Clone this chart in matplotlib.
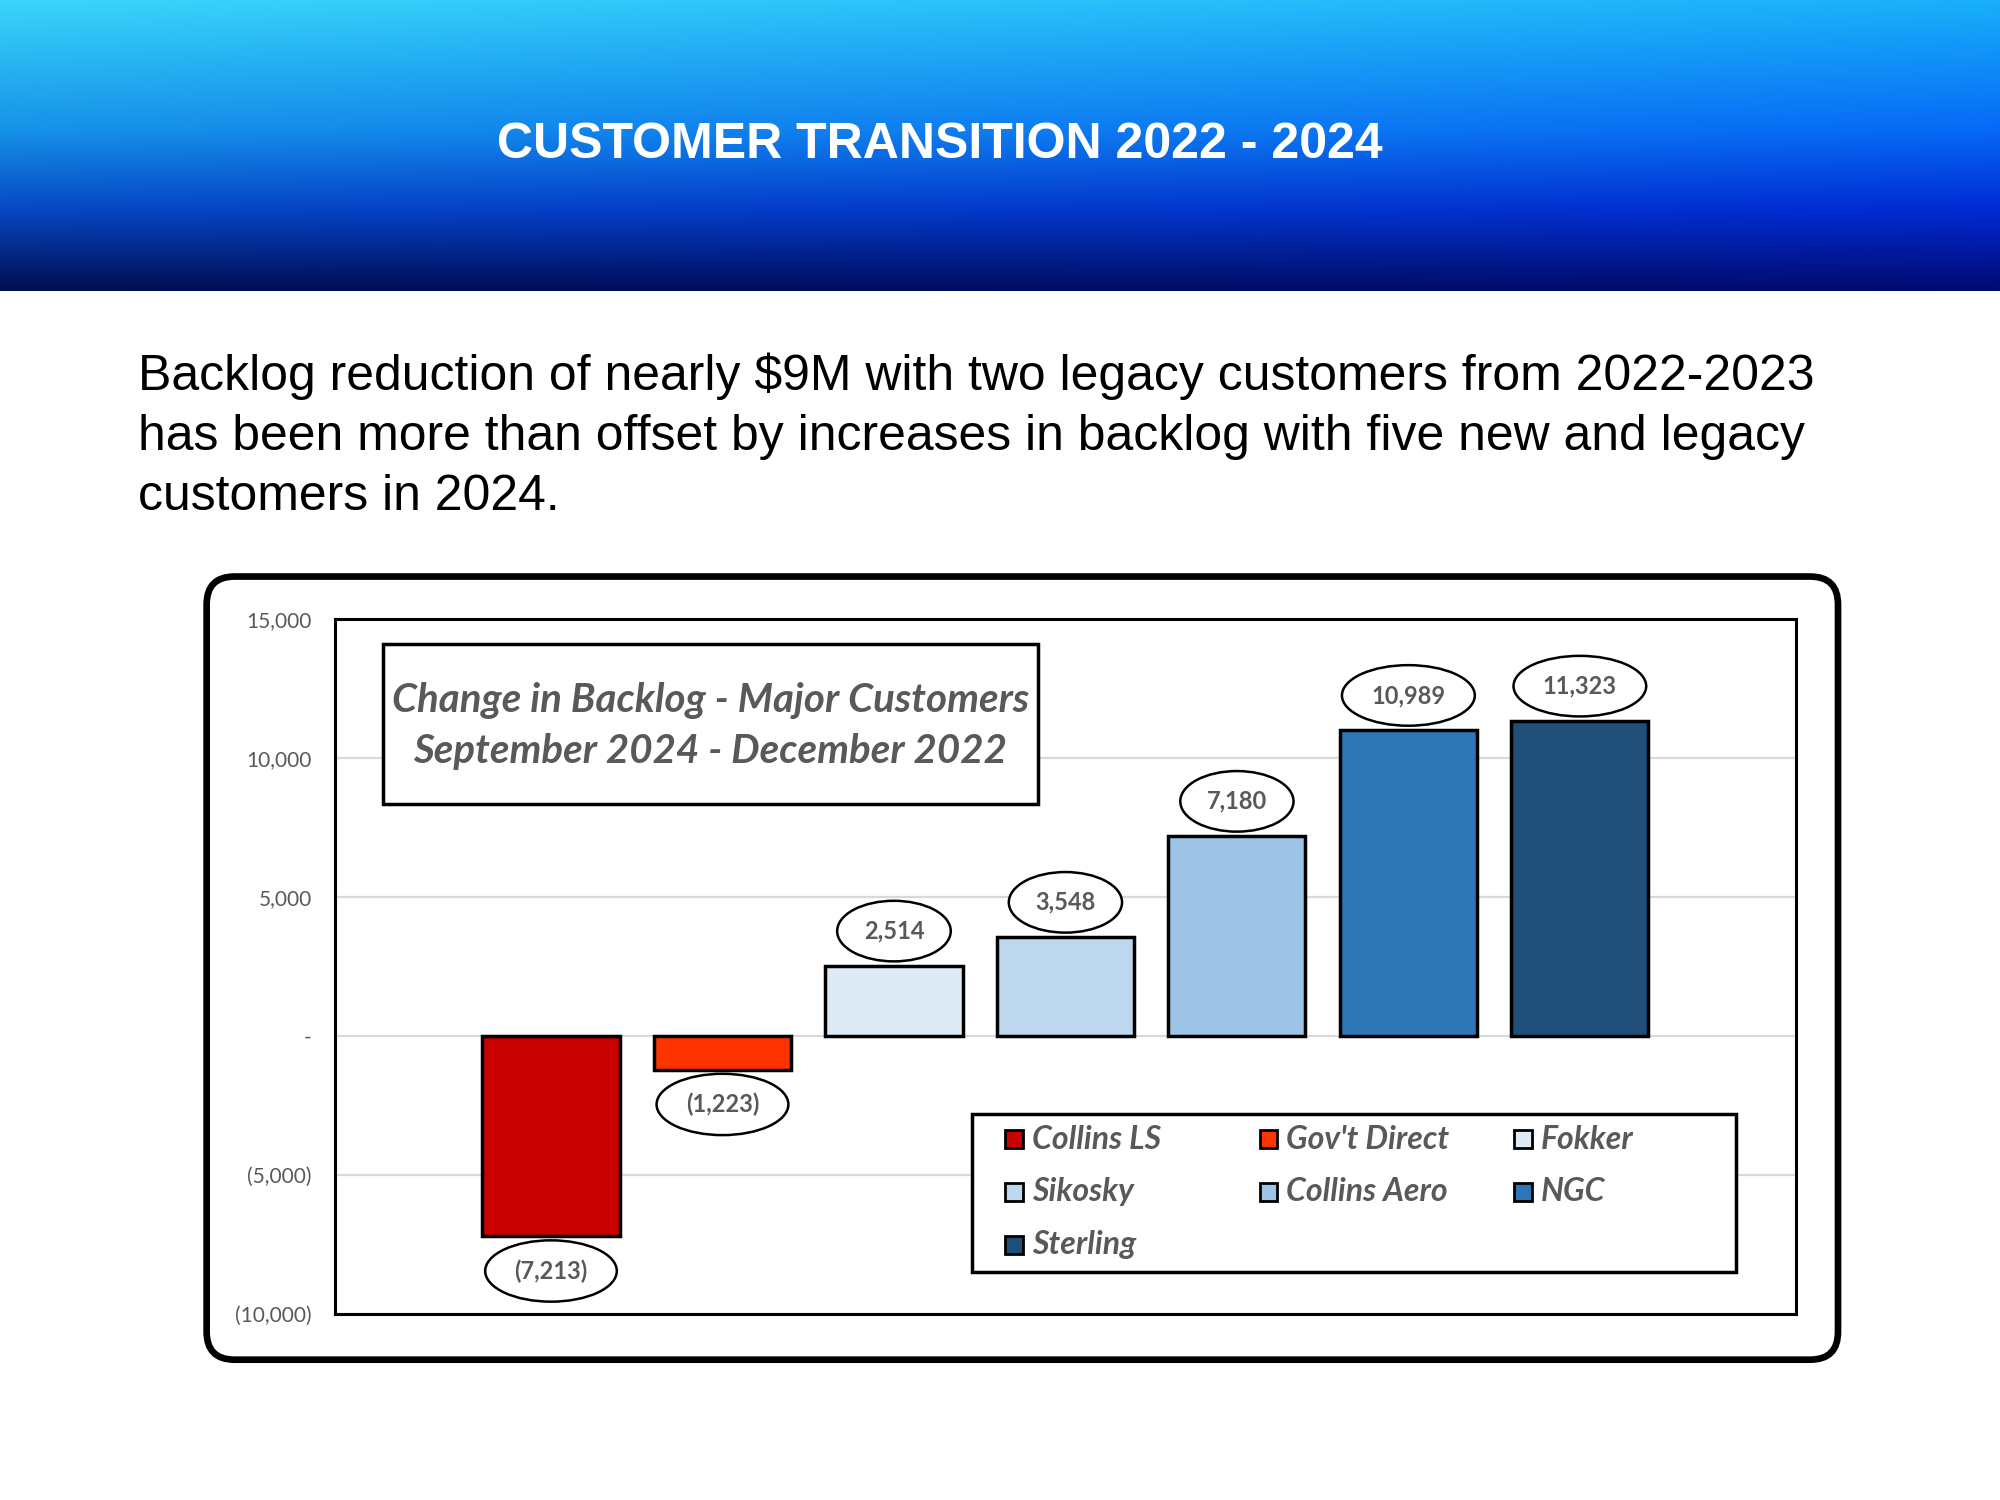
import numpy as np
import matplotlib
matplotlib.use("Agg")
import matplotlib.pyplot as plt
from matplotlib.patches import Rectangle, FancyBboxPatch
from matplotlib.ticker import FuncFormatter

# ---------------- data ----------------
customers = ["Collins LS", "Gov't Direct", "Fokker", "Sikosky", "Collins Aero", "NGC", "Sterling"]
changes = [-7213, -1223, 2514, 3548, 7180, 10989, 11323]
colors = ["#C80000", "#FF3300", "#DEEBF7", "#BDD7EE", "#9DC3E6", "#2E75B6", "#1F4E79"]
y_ticks = [-10000, -5000, 0, 5000, 10000, 15000]

title = "CUSTOMER TRANSITION 2022 - 2024"
body_lines = [
    "Backlog reduction of nearly $9M with two legacy customers from 2022-2023",
    "has been more than offset by increases in backlog with five new and legacy",
    "customers in 2024.",
]
box_lines = ["Change in Backlog - Major Customers", "September 2024 - December 2022"]

W, H = 1568.0, 1176.0  # reference layout units
GRAY = "#595959"
CAL = ["Lato", "DejaVu Sans"]

fig = plt.figure(figsize=(20, 15), dpi=100)
fig.patch.set_facecolor("white")

# ---------------- header gradient ----------------
hdr = fig.add_axes([0, 1 - 228 / H, 1, 228 / H])
hdr.set_axis_off()
ny, nx = 200, 300
t = np.linspace(0, 1, ny)[:, None]
s = np.linspace(0, 1, nx)[None, :]
left_stops = np.array([[58, 214, 250], [22, 145, 232], [6, 72, 195], [0, 14, 78]], float)
right_stops = np.array([[24, 176, 250], [6, 104, 246], [0, 42, 212], [0, 10, 112]], float)
pos = np.array([0, 0.45, 0.72, 1.0])
img = np.zeros((ny, nx, 3))
for c in range(3):
    lc = np.interp(t[:, 0], pos, left_stops[:, c])[:, None]
    rc = np.interp(t[:, 0], pos, right_stops[:, c])[:, None]
    img[:, :, c] = lc * (1 - s) + rc * s
hdr.imshow(img / 255.0, aspect="auto", extent=[0, 1, 0, 1], origin="upper")
hdr.set_xlim(0, 1)
hdr.set_ylim(0, 1)
fig.text(737 / W, 1 - 114 / H, title, color="white", fontsize=36, fontweight="bold",
         family=["Liberation Sans", "DejaVu Sans"], ha="center", va="center")

# ---------------- body text ----------------
for i, line in enumerate(body_lines):
    fig.text(108 / W, 1 - (306 + 47 * i) / H, line, fontsize=35.9,
             family=["Liberation Sans", "DejaVu Sans"], ha="left", va="baseline", color="black")

# ---------------- outer rounded frame ----------------
sx, sy = 20 / W, 15 / H
frame = FancyBboxPatch((162 * sx, (H - 1066) * sy), (1441 - 162) * sx, (1066 - 452) * sy,
                       boxstyle="round,pad=0,rounding_size=0.28", transform=fig.dpi_scale_trans,
                       facecolor="none", edgecolor="black", linewidth=4.8, zorder=5)
fig.patches.append(frame)

# ---------------- chart ----------------
ax = fig.add_axes([263 / W, 1 - 1030 / H, (1408 - 263) / W, (1030 - 485) / H])
x = np.arange(len(customers))
bars = ax.bar(x, changes, width=0.8, color=colors, edgecolor="black", linewidth=2.5, zorder=3)
ax.set_xlim(-1.257, 7.26)
ax.set_ylim(-10000, 15000)
ax.set_yticks(y_ticks)


def fmt(v, _=None):
    if v == 0:
        return "-"
    if v < 0:
        return "({:,.0f})".format(-v)
    return "{:,.0f}".format(v)


ax.yaxis.set_major_formatter(FuncFormatter(fmt))
ax.tick_params(axis="y", length=0, pad=17, labelsize=15, labelcolor=GRAY)
for lab in ax.get_yticklabels():
    lab.set_family(CAL)
ax.set_xticks([])
ax.grid(axis="y", color="#D9D9D9", linewidth=1.6, zorder=0)
for sp in ax.spines.values():
    sp.set_linewidth(2.2)
    sp.set_color("black")
    sp.set_zorder(6)

for xi, v in zip(x, changes):
    off = 25 if v > 0 else -25
    ax.annotate(fmt(v), xy=(xi, v), xytext=(0, off), textcoords="offset points",
                ha="center", va="center", fontsize=17, fontweight="bold", color=GRAY,
                family=CAL, zorder=7,
                bbox=dict(boxstyle="ellipse,pad=0.42", facecolor="white", edgecolor="black",
                          linewidth=1.8))

# title box inside chart
x0, x1 = (300 - 263) / 1145, (814 - 263) / 1145
y1, y0 = (1030 - 505) / 545, (1030 - 630) / 545
ax.add_patch(Rectangle((x0, y0), x1 - x0, y1 - y0, transform=ax.transAxes, facecolor="white",
                       edgecolor="black", linewidth=2.5, zorder=4))
for k, line in enumerate(box_lines):
    ax.text((x0 + x1) / 2, (1030 - (549 + 40 * k)) / 545, line, transform=ax.transAxes,
            ha="center", va="center", fontsize=29, fontweight="bold", style="italic",
            color=GRAY, family=CAL, zorder=5)

# ---------------- legend (drawn as grid, row-major, 3 columns) ----------------
fig.patches.append(Rectangle((762 / W, 1 - 997 / H), (1361 - 762) / W, (997 - 873) / H,
                             transform=fig.transFigure, facecolor="white", edgecolor="black",
                             linewidth=2.5, zorder=8))
for i, (name, col) in enumerate(zip(customers, colors)):
    r, c = divmod(i, 3)
    cx = 788 + 199.5 * c
    cy = 893 + 41.5 * r
    fig.patches.append(Rectangle((cx / W, 1 - (cy + 7) / H), 14 / W, 14 / H,
                                 transform=fig.transFigure, facecolor=col, edgecolor="black",
                                 linewidth=2, zorder=9))
    fig.text((cx + 21) / W, 1 - cy / H, name, ha="left", va="center", fontsize=23,
             fontweight="bold", style="italic", color=GRAY, family=CAL, zorder=9)

fig.savefig("out.png", dpi=100, facecolor="white")
